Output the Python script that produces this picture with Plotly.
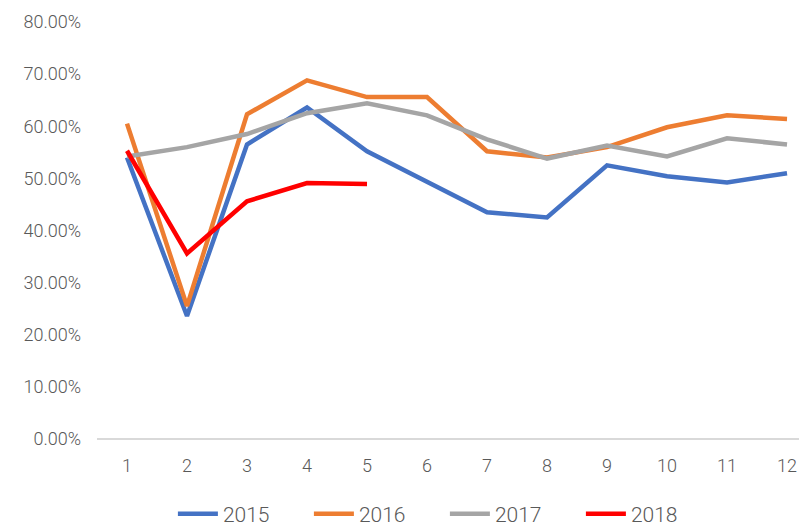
import plotly.graph_objects as go

months = list(range(1, 13))
month_labels = [str(m) for m in months]
y_tickvals = [0, 0.1, 0.2, 0.3, 0.4, 0.5, 0.6, 0.7, 0.8]

s2015 = [0.540, 0.236, 0.565, 0.636, 0.552, 0.494, 0.435, 0.425, 0.525, 0.504, 0.492, 0.510]
s2016 = [0.605, 0.255, 0.623, 0.688, 0.656, 0.656, 0.552, 0.540, 0.560, 0.598, 0.621, 0.614]
s2017 = [0.542, 0.560, 0.585, 0.625, 0.644, 0.621, 0.575, 0.538, 0.563, 0.542, 0.577, 0.565]
s2018 = [0.553, 0.356, 0.456, 0.491, 0.489]

series = [
    ("2015", s2015, "#4472C4"),
    ("2016", s2016, "#ED7D31"),
    ("2017", s2017, "#A5A5A5"),
    ("2018", s2018, "#FF0000"),
]

font_family = "Roboto, sans-serif"

fig = go.Figure()
for name, vals, color in series:
    fig.add_trace(go.Scatter(
        x=months[:len(vals)], y=vals, name=name, mode="lines",
        line=dict(color=color, width=4.5),
    ))

# page body has an 8px default margin, so the figure is offset by 8px
fig.update_layout(
    width=799, height=518,
    margin=dict(l=89, r=0, t=14, b=87, autoexpand=False),
    paper_bgcolor="white", plot_bgcolor="white",
    font=dict(family=font_family, color="#595959", size=18, weight=300),
    showlegend=True,
    legend=dict(
        orientation="h", x=0.49, xanchor="center", y=-0.18, yanchor="middle",
        font=dict(size=21, color="#595959", weight=300), entrywidth=81,
        itemwidth=40,
    ),
    xaxis=dict(
        range=[0.5, 12.333], tickvals=months, ticktext=month_labels,
        showgrid=False, showline=False, zeroline=False, ticks="",
        tickfont=dict(size=18, color="#595959", weight=300),
        ticklabelstandoff=14, automargin=False,
    ),
    yaxis=dict(
        range=[0, 0.8], tickvals=y_tickvals, tickformat=".2%",
        showgrid=False, zeroline=True, zerolinecolor="#D9D9D9", zerolinewidth=2,
        showline=False, ticks="", ticklabelstandoff=15, automargin=False,
        tickfont=dict(size=18, color="#595959", weight=300),
    ),
)

fig.write_html("out.html")
